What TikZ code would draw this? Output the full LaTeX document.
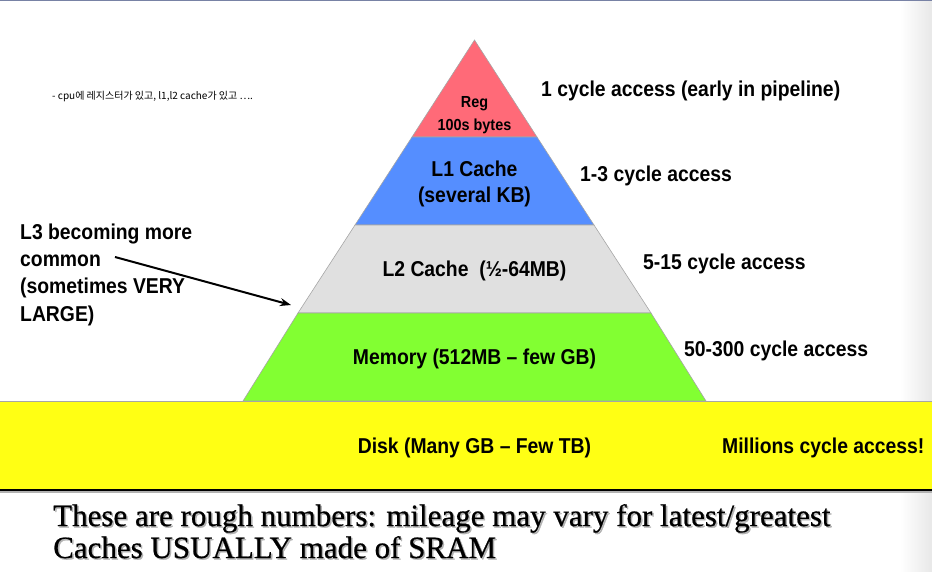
\documentclass[tikz,border=0pt]{standalone}
\usepackage{fontspec}
\setmainfont{Liberation Sans}
\newfontfamily\slidesf[FakeStretch=0.9]{Liberation Sans}
\newfontfamily\sliderm[FakeStretch=1.0, FakeBold=0.6]{Liberation Serif}
\newfontfamily\krfont{Noto Sans CJK KR}
\usetikzlibrary{arrows.meta}
\definecolor{regred}{RGB}{255,106,120}
\definecolor{lonebl}{RGB}{85,142,255}
\definecolor{ltwogr}{RGB}{224,224,224}
\definecolor{memgrn}{RGB}{130,255,50}
\definecolor{diskyl}{RGB}{255,255,20}
\definecolor{topline}{RGB}{120,130,165}
\begin{document}
\begin{tikzpicture}[x=1pt, y=-1pt,
    tier/.style = {draw=gray!70, line width=0.6pt},
    big/.style = {font=\slidesf\bfseries\fontsize{21.5}{27.3}\selectfont, inner sep=0},
    small/.style = {font=\slidesf\bfseries\fontsize{16}{20}\selectfont, inner sep=0},
    note/.style = {font=\sliderm\fontsize{31}{33}\selectfont, inner sep=0, anchor=base west}]
  \useasboundingbox (0,0) rectangle (932,571);
  % page edges
  \shade[left color=white, right color=gray!18] (900,0) rectangle (932,571);
  \draw[topline, line width=1.2pt] (0,0.6) -- (932,0.6);
  % pyramid corners
  \coordinate (apex) at (474.5,40);
  \coordinate (l1) at (412,137);  \coordinate (r1) at (537,137);
  \coordinate (l2) at (355,225);  \coordinate (r2) at (594,225);
  \coordinate (l3) at (298,313);  \coordinate (r3) at (651,313);
  \coordinate (l4) at (243,401);  \coordinate (r4) at (706,401);
  \filldraw[tier, fill=regred] (apex) -- (r1) -- (l1) -- cycle;
  \filldraw[tier, fill=lonebl] (l1) -- (r1) -- (r2) -- (l2) -- cycle;
  \filldraw[tier, fill=ltwogr] (l2) -- (r2) -- (r3) -- (l3) -- cycle;
  \filldraw[tier, fill=memgrn] (l3) -- (r3) -- (r4) -- (l4) -- cycle;
  % disk band
  \fill[diskyl] (0,401) rectangle (932,490);
  \draw[gray!70, line width=0.8pt] (0,401) -- (932,401);
  \draw[gray!60, line width=1.5pt] (0,492) -- (932,492);
  \draw[black, line width=1.5pt] (0,490) -- (932,490);
  % tier labels
  \node[small] (reg) at (474.5,104) {Reg};
  \node[small] (regsize) at (474.5,126) {100s bytes};
  \node[big] (lone) at (474.5,169) {L1 Cache};
  \node[big] (lonesize) at (474.5,197) {(several KB)};
  \node[big] (ltwo) at (474.5,271) {L2 Cache\ \ (½-64MB)};
  \node[big] (mem) at (474.5,359) {Memory (512MB – few GB)};
  \node[big] (disk) at (474.5,448) {Disk (Many GB – Few TB)};
  % access times
  \node[big, anchor=west] (tone) at (541,91) {1 cycle access (early in pipeline)};
  \node[big, anchor=west] (ttwo) at (580,176) {1-3 cycle access};
  \node[big, anchor=west] (tthree) at (643,264) {5-15 cycle access};
  \node[big, anchor=west] (tfour) at (684,351) {50-300 cycle access};
  \node[big, anchor=west] (tfive) at (722,448) {Millions cycle access!};
  % L3 remark
  \node[big, anchor=base west, align=left] (lthree) at (20,321)
    {L3 becoming more\\common\\(sometimes VERY\\LARGE)};
  \coordinate (lthreefrom) at (115,257);
  \coordinate (lthreeto) at (291,305);
  \draw[line width=2pt, -{Stealth[length=11pt, width=8pt]}] (lthreefrom) -- (lthreeto);
  % korean note
  \node[font=\krfont\fontsize{10}{12}\selectfont, inner sep=0, anchor=west] (kr) at (52,97)
    {- cpu에 레지스터가 있고, l1,l2 cache가 있고 ….};
  % bottom notes
  \node[note, gray!60] (shadowa) at (54.5,527.5) {These are rough numbers: mileage may vary for latest/greatest};
  \node[note] (notea) at (53,526) {These are rough numbers: mileage may vary for latest/greatest};
  \node[note, gray!60] (shadowb) at (54.5,559.5) {Caches USUALLY made of SRAM};
  \node[note] (noteb) at (53,558) {Caches USUALLY made of SRAM};
\end{tikzpicture}
\end{document}
